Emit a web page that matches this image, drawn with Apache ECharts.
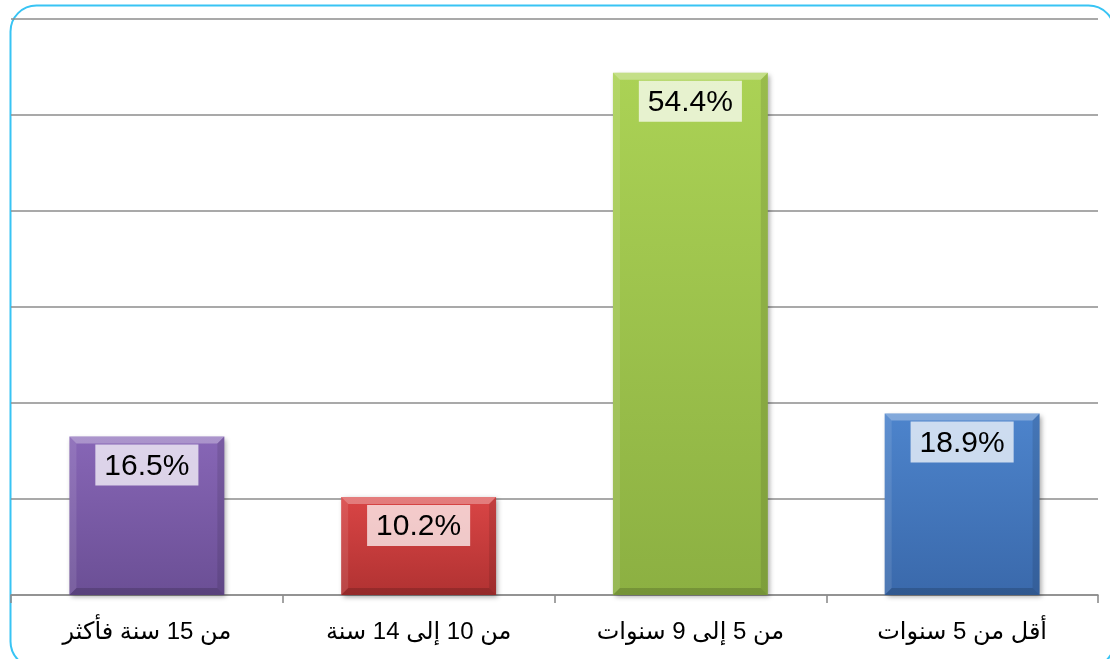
<!DOCTYPE html>
<html>
<head>
<meta charset="utf-8">
<script src="https://cdn.jsdelivr.net/npm/echarts@6/dist/echarts.min.js"></script>
<style>
  html, body { margin: 0; padding: 0; background: #fff; }
  #chart { width: 1110px; height: 659px; }
</style>
</head>
<body>
<div id="chart"></div>
<script>
// Years-of-experience groups (left to right) and their shares in percent
const categories = ['من 15 سنة فأكثر', 'من 10 إلى 14 سنة', 'من 5 إلى 9 سنوات', 'أقل من 5 سنوات'];
const values = [16.5, 10.2, 54.4, 18.9];

// Bar fill colours: [top, bottom] of each bar's gradient
const barColors = [
  ['#8766b6', '#6b4f95'],
  ['#d94545', '#b13232'],
  ['#abd255', '#8cb042'],
  ['#4d84cc', '#3a69ab']
];

const chart = echarts.init(document.getElementById('chart'), null, { renderer: 'canvas' });

function renderBevelBar(params, api) {
  const idx = api.value(0);
  const val = api.value(1);
  const top = api.coord([idx, val]);
  const base = api.coord([idx, 0]);
  const bw = api.size([1, 0])[0] * 0.57;
  const x0 = top[0] - bw / 2, x1 = top[0] + bw / 2;
  const y0 = top[1], y1 = base[1];
  const b = 7;
  const c = barColors[idx];
  return {
    type: 'group',
    children: [
      {
        type: 'rect',
        shape: { x: x0, y: y0, width: bw, height: y1 - y0 },
        style: {
          fill: new echarts.graphic.LinearGradient(0, 0, 0, 1, [
            { offset: 0, color: c[0] },
            { offset: 1, color: c[1] }
          ]),
          shadowBlur: 5,
          shadowOffsetX: 2,
          shadowOffsetY: 2,
          shadowColor: 'rgba(0,0,0,0.35)'
        }
      },
      { type: 'polygon', shape: { points: [[x0, y0], [x1, y0], [x1 - b, y0 + b], [x0 + b, y0 + b]] },
        style: { fill: 'rgba(255,255,255,0.3)' } },
      { type: 'polygon', shape: { points: [[x0, y0], [x0 + b, y0 + b], [x0 + b, y1 - b], [x0, y1]] },
        style: { fill: 'rgba(255,255,255,0.1)' } },
      { type: 'polygon', shape: { points: [[x1, y0], [x1, y1], [x1 - b, y1 - b], [x1 - b, y0 + b]] },
        style: { fill: 'rgba(0,0,0,0.1)' } },
      { type: 'polygon', shape: { points: [[x0, y1], [x1, y1], [x1 - b, y1 - b], [x0 + b, y1 - b]] },
        style: { fill: 'rgba(0,0,0,0.16)' } },
      {
        type: 'text',
        z2: 10,
        style: {
          text: val.toFixed(1) + '%',
          x: top[0],
          y: y0 + 8,
          align: 'center',
          verticalAlign: 'top',
          font: '30px "Liberation Sans", Arial, sans-serif',
          fill: '#000',
          backgroundColor: 'rgba(255,255,255,0.72)',
          padding: [7, 9, 4, 9]
        }
      }
    ]
  };
}

chart.setOption({
  animation: false,
  backgroundColor: '#fff',
  graphic: [{
    type: 'rect',
    left: 8, top: 3,
    shape: { width: 1104, height: 662, r: 26 },
    style: { fill: 'none', stroke: '#38c4f4', lineWidth: 2 },
    z: 0
  }],
  grid: { left: 11, right: 12, top: 19, bottom: 64 },
  xAxis: {
    type: 'category',
    data: categories,
    axisLine: { lineStyle: { color: '#8c8c8c', width: 1.6 } },
    axisTick: { show: true, length: 8, lineStyle: { color: '#8c8c8c', width: 1.6 } },
    axisLabel: {
      color: '#000',
      fontSize: 24,
      fontFamily: '"Liberation Sans", "DejaVu Sans", Arial, sans-serif',
      margin: 25
    }
  },
  yAxis: {
    type: 'value',
    min: 0, max: 60, interval: 10,
    axisLabel: { show: false },
    axisLine: { show: false },
    axisTick: { show: false },
    splitLine: { lineStyle: { color: '#8c8c8c', width: 1.6 } }
  },
  series: [{
    type: 'custom',
    renderItem: renderBevelBar,
    encode: { x: 0, y: 1 },
    data: values.map((v, i) => [i, v]),
    z: 3
  }]
});
</script>
</body>
</html>
